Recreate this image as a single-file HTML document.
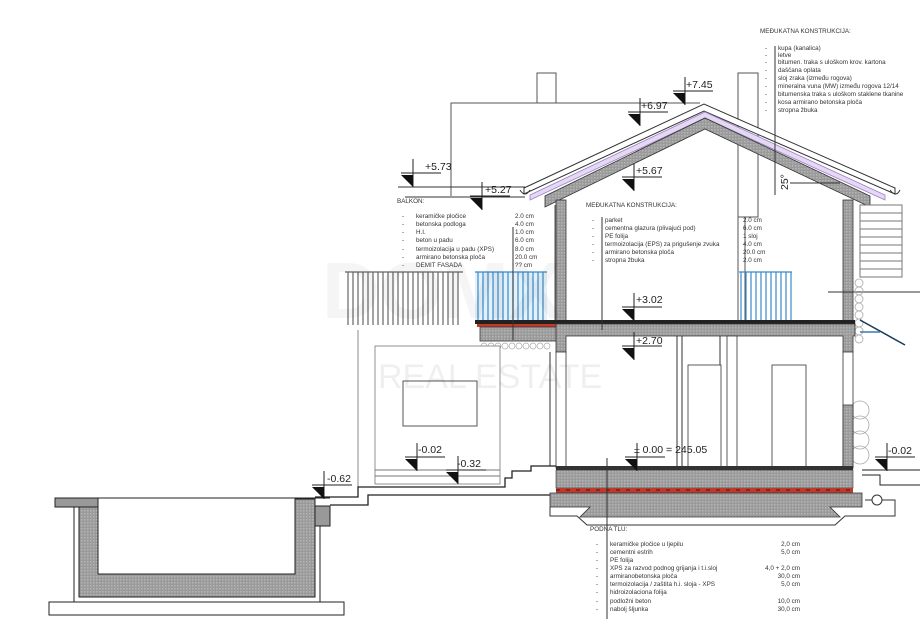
<!DOCTYPE html>
<html><head><meta charset="utf-8"><style>
html,body{margin:0;padding:0;background:#fff;}
svg{display:block;}
text{font-family:"Liberation Sans",sans-serif;fill:#333;}
.s{font-size:6.3px;}
.lv{font-size:10.5px;fill:#222;}
</style></head><body>
<svg width="920" height="636" viewBox="0 0 920 636" xmlns="http://www.w3.org/2000/svg">
<defs>
<pattern id="hatch" width="3" height="3" patternUnits="userSpaceOnUse"><rect width="3" height="3" fill="#9a9a9a"/><rect width="1.5" height="1.5" fill="#b5b5b5"/></pattern>
<g id="mk"><line x1="0" y1="0" x2="40" y2="0" stroke="#222" stroke-width="1"/><line x1="12" y1="-14" x2="12" y2="14" stroke="#222" stroke-width="1"/><polygon points="0,2 12,2 12,14" fill="#111"/></g>
</defs>

<!-- back building outline -->
<polyline points="451,196 451,103 700,103" fill="none" stroke="#555" stroke-width="1"/>
<rect x="537" y="73" width="19" height="30" fill="#fff" stroke="#555"/>
<rect x="738" y="73" width="20" height="144" fill="#fff" stroke="#555"/>
<line x1="398" y1="187" x2="525" y2="187" stroke="#333"/>
<line x1="405" y1="197" x2="525" y2="197" stroke="#333"/>

<!-- roof -->
<polygon points="524,188 704,104 895,188 895,194 704,111 524,194" fill="#fff" stroke="#333" stroke-width="1"/>
<polygon points="530,195 705,112 885,195 885,200 705,118 530,200" fill="#e4d8f2" stroke="#9b7fc7" stroke-width="0.8"/>
<polygon points="545,196 705,118 870,196 870,207 705,129 545,207" fill="url(#hatch)" stroke="#333" stroke-width="0.8"/>
<path d="M520,190 q5,8 10,0" fill="none" stroke="#333"/>
<path d="M890,190 q6,8 10,0" fill="none" stroke="#333"/>

<!-- upper walls -->
<rect x="556" y="200" width="10" height="130" fill="url(#hatch)" stroke="#333" stroke-width="0.8"/>
<rect x="843" y="200" width="10" height="130" fill="url(#hatch)" stroke="#333" stroke-width="0.8"/>
<line x1="555" y1="205" x2="555" y2="330" stroke="#555"/>
<line x1="738" y1="217" x2="738" y2="322" stroke="#555"/>
<line x1="745" y1="217" x2="745" y2="322" stroke="#555"/>

<!-- right stairs -->
<rect x="860" y="205" width="42" height="72" fill="#fff" stroke="#777"/>
<g stroke="#777"><line x1="860" y1="213" x2="902" y2="213"/><line x1="860" y1="221" x2="902" y2="221"/><line x1="860" y1="229" x2="902" y2="229"/><line x1="860" y1="237" x2="902" y2="237"/><line x1="860" y1="245" x2="902" y2="245"/><line x1="860" y1="253" x2="902" y2="253"/><line x1="860" y1="261" x2="902" y2="261"/><line x1="860" y1="269" x2="902" y2="269"/></g>
<line x1="828" y1="292" x2="920" y2="292" stroke="#333"/>
<g fill="none" stroke="#aaa" stroke-width="0.8">
<circle cx="859" cy="283" r="4"/><circle cx="859" cy="291" r="4"/><circle cx="859" cy="299" r="4"/><circle cx="859" cy="307" r="4"/><circle cx="859" cy="315" r="4"/><circle cx="859" cy="323" r="4"/><circle cx="859" cy="331" r="4"/><circle cx="859" cy="339" r="4"/>
<circle cx="860" cy="410" r="9"/><circle cx="860" cy="425" r="9"/><circle cx="860" cy="440" r="9"/><circle cx="860" cy="455" r="9"/>
</g>
<polyline points="860,320 905,345" stroke="#1a3a5a" stroke-width="1.5" fill="none"/>
<polyline points="860,332 880,332" stroke="#3a7ab0" stroke-width="1.5"/>

<!-- balconies railings -->
<g stroke="#666" stroke-width="1.2">
<line x1="345" y1="272" x2="463" y2="272"/>
<line x1="348" y1="272" x2="348" y2="325"/><line x1="353" y1="272" x2="353" y2="325"/><line x1="358" y1="272" x2="358" y2="325"/><line x1="363" y1="272" x2="363" y2="325"/><line x1="368" y1="272" x2="368" y2="325"/><line x1="373" y1="272" x2="373" y2="325"/><line x1="378" y1="272" x2="378" y2="325"/><line x1="383" y1="272" x2="383" y2="325"/><line x1="388" y1="272" x2="388" y2="325"/><line x1="393" y1="272" x2="393" y2="325"/><line x1="398" y1="272" x2="398" y2="325"/><line x1="403" y1="272" x2="403" y2="325"/><line x1="408" y1="272" x2="408" y2="325"/><line x1="413" y1="272" x2="413" y2="325"/><line x1="418" y1="272" x2="418" y2="325"/><line x1="423" y1="272" x2="423" y2="325"/><line x1="428" y1="272" x2="428" y2="325"/><line x1="433" y1="272" x2="433" y2="325"/><line x1="438" y1="272" x2="438" y2="325"/><line x1="443" y1="272" x2="443" y2="325"/><line x1="448" y1="272" x2="448" y2="325"/><line x1="453" y1="272" x2="453" y2="325"/><line x1="458" y1="272" x2="458" y2="325"/>
</g>
<rect x="475" y="272" width="72" height="50" fill="#e3f1fb"/>
<g stroke="#3a8ac8" stroke-width="1.2">
<line x1="475" y1="272" x2="547" y2="272"/>
<line x1="478" y1="272" x2="478" y2="322"/><line x1="483" y1="272" x2="483" y2="322"/><line x1="488" y1="272" x2="488" y2="322"/><line x1="493" y1="272" x2="493" y2="322"/><line x1="498" y1="272" x2="498" y2="322"/><line x1="503" y1="272" x2="503" y2="322"/><line x1="508" y1="272" x2="508" y2="322"/><line x1="513" y1="272" x2="513" y2="322"/><line x1="518" y1="272" x2="518" y2="322"/><line x1="523" y1="272" x2="523" y2="322"/><line x1="528" y1="272" x2="528" y2="322"/><line x1="533" y1="272" x2="533" y2="322"/><line x1="538" y1="272" x2="538" y2="322"/><line x1="543" y1="272" x2="543" y2="322"/>
</g>
<g stroke="#3a8ac8" stroke-width="1.2">
<line x1="739" y1="272" x2="792" y2="272"/>
<line x1="741" y1="272" x2="741" y2="322"/><line x1="746" y1="272" x2="746" y2="322"/><line x1="751" y1="272" x2="751" y2="322"/><line x1="756" y1="272" x2="756" y2="322"/><line x1="761" y1="272" x2="761" y2="322"/><line x1="766" y1="272" x2="766" y2="322"/><line x1="771" y1="272" x2="771" y2="322"/><line x1="776" y1="272" x2="776" y2="322"/><line x1="781" y1="272" x2="781" y2="322"/><line x1="786" y1="272" x2="786" y2="322"/><line x1="791" y1="272" x2="791" y2="322"/>
</g>

<!-- upper slab -->
<rect x="475" y="320" width="380" height="4" fill="#222"/>
<rect x="477" y="324" width="80" height="3" fill="#c0392b"/>
<rect x="480" y="327" width="78" height="14" fill="url(#hatch)" stroke="#333" stroke-width="0.8"/>
<polygon points="556,324 855,324 855,336 853,336 853,352 843,352 843,336 566,336 566,352 556,352" fill="url(#hatch)" stroke="#333" stroke-width="0.8"/>
<g fill="none" stroke="#aaa" stroke-width="0.7"><circle cx="484" cy="346" r="3"/><circle cx="491" cy="346" r="3"/><circle cx="498" cy="346" r="3"/><circle cx="505" cy="346" r="3"/><circle cx="512" cy="346" r="3"/><circle cx="519" cy="346" r="3"/><circle cx="526" cy="346" r="3"/><circle cx="533" cy="346" r="3"/><circle cx="540" cy="346" r="3"/><circle cx="547" cy="346" r="3"/></g>

<!-- ground floor walls -->
<rect x="556" y="352" width="10" height="116" fill="#fff" stroke="#333" stroke-width="0.8"/>
<rect x="843" y="352" width="10" height="116" fill="#fff" stroke="#333" stroke-width="0.8"/>
<rect x="843" y="405" width="10" height="63" fill="url(#hatch)" stroke="#333" stroke-width="0.8"/>
<rect x="727" y="336" width="10" height="132" fill="#fff" stroke="#333" stroke-width="0.8"/>
<line x1="677" y1="336" x2="677" y2="468" stroke="#333"/>
<line x1="682" y1="336" x2="682" y2="468" stroke="#333"/>
<line x1="720" y1="336" x2="720" y2="468" stroke="#333"/>
<rect x="688" y="365" width="33" height="103" fill="#fff" stroke="#333" stroke-width="0.8"/>
<rect x="772" y="365" width="34" height="103" fill="#fff" stroke="#333" stroke-width="0.8"/>

<!-- ground slab & foundation -->
<rect x="556" y="466" width="297" height="4" fill="#333"/>
<rect x="556" y="470" width="297" height="18" fill="url(#hatch)" stroke="#333" stroke-width="0.6"/>
<rect x="556" y="488" width="297" height="5" fill="#c0392b"/>
<line x1="556" y1="490" x2="853" y2="490" stroke="#222" stroke-dasharray="4,6"/>
<polygon points="550,493 862,493 862,507 830,507 840,517 580,517 590,507 550,507" fill="url(#hatch)" stroke="#333" stroke-width="0.8"/>
<polyline points="550,507 550,516 577,516 587,525 835,525 845,516 895,516 895,500 865,500" fill="none" stroke="#333"/>
<circle cx="877" cy="500" r="5" fill="#fff" stroke="#333"/>

<!-- annex -->
<line x1="358" y1="330" x2="358" y2="487" stroke="#888"/>
<rect x="375" y="346" width="125" height="138" fill="#fff" stroke="#777" stroke-width="0.8"/>
<rect x="403" y="381" width="74" height="45" fill="#fff" stroke="#555"/>
<line x1="375" y1="470" x2="500" y2="470" stroke="#777"/>
<line x1="375" y1="476" x2="500" y2="476" stroke="#777"/>
<line x1="550" y1="352" x2="550" y2="466" stroke="#333"/>

<!-- ground lines -->
<polyline points="315,497 358,497 358,487 505,487 505,478 512,478 512,471 531,471 531,466 556,466" fill="none" stroke="#222" stroke-width="1.3"/>
<polyline points="330,505 368,505 368,495 550,495" fill="none" stroke="#222" stroke-width="1.3"/>
<polyline points="862,470 920,470" fill="none" stroke="#222"/>
<polyline points="862,475 880,475 880,485 920,485" fill="none" stroke="#222"/>

<!-- pool -->
<rect x="49" y="602" width="295" height="13" fill="#fff" stroke="#222"/>
<polyline points="74,507 74,602 320,602 320,507" fill="none" stroke="#222"/>
<rect x="79" y="499" width="236" height="98" fill="url(#hatch)" stroke="#222"/>
<rect x="98" y="498" width="197" height="76" fill="#fff" stroke="#222"/>
<rect x="55" y="498" width="43" height="9" fill="#999" stroke="#222"/>
<rect x="315" y="506" width="15" height="20" fill="#999" stroke="#222"/>
<line x1="55" y1="498" x2="330" y2="498" stroke="#222"/>

<!-- watermark (on top, faint) -->
<text x="378" y="388" style="font-size:34px;fill:#000;opacity:0.06">REAL ESTATE</text>
<text x="322" y="318" style="font-size:80px;fill:#000;opacity:0.035;font-weight:bold">DOMX</text>

<!-- level markers -->
<use href="#mk" x="673" y="91"/><text class="lv" x="686" y="88">+7.45</text>
<use href="#mk" x="628" y="112"/><text class="lv" x="641" y="109">+6.97</text>
<use href="#mk" x="401" y="173"/><text class="lv" x="425" y="170">+5.73</text>
<use href="#mk" x="470" y="196"/><text class="lv" x="485" y="193">+5.27</text>
<use href="#mk" x="622" y="177"/><text class="lv" x="636" y="174">+5.67</text>
<use href="#mk" x="622" y="307"/><text class="lv" x="636" y="303">+3.02</text>
<use href="#mk" x="622" y="346"/><text class="lv" x="636" y="344">+2.70</text>
<use href="#mk" x="405" y="457"/><text class="lv" x="418" y="453">-0.02</text>
<use href="#mk" x="446" y="470"/><text class="lv" x="457" y="467">-0.32</text>
<use href="#mk" x="312" y="485"/><text class="lv" x="327" y="482">-0.62</text>
<use href="#mk" x="625" y="457"/><text class="lv" x="634" y="453">± 0.00 = 245.05</text>
<use href="#mk" x="875" y="457"/><text class="lv" x="888" y="454">-0.02</text>
<text class="lv" transform="translate(788,190) rotate(-90)">25°</text>
<line x1="790" y1="183" x2="840" y2="183" stroke="#333"/>

<!-- top right text -->
<line x1="775" y1="46" x2="775" y2="195" stroke="#333"/>
<text class="s" x="760" y="33">MEĐUKATNA KONSTRUKCIJA:</text>
<text class="s" x="765" y="50">-</text><text class="s" x="778" y="50">kupa (kanalica)</text>
<text class="s" x="765" y="57">-</text><text class="s" x="778" y="57">letve</text>
<text class="s" x="765" y="64">-</text><text class="s" x="778" y="64">bitumen. traka s uloškom krov. kartona</text>
<text class="s" x="765" y="72">-</text><text class="s" x="778" y="72">daščana oplata</text>
<text class="s" x="765" y="80">-</text><text class="s" x="778" y="80">sloj zraka (između rogova)</text>
<text class="s" x="765" y="88">-</text><text class="s" x="778" y="88">mineralna vuna (MW) između rogova 12/14</text>
<text class="s" x="765" y="96">-</text><text class="s" x="778" y="96">bitumenska traka s uloškom staklene tkanine</text>
<text class="s" x="765" y="104">-</text><text class="s" x="778" y="104">kosa armirano betonska ploča</text>
<text class="s" x="765" y="112">-</text><text class="s" x="778" y="112">stropna žbuka</text>

<!-- balkon text -->
<line x1="513" y1="227" x2="513" y2="340" stroke="#333"/>
<text class="s" x="397" y="203">BALKON:</text>
<text class="s" x="402" y="218">-</text><text class="s" x="416" y="218">keramičke pločice</text><text class="s" x="515" y="218">2.0 cm</text>
<text class="s" x="402" y="226">-</text><text class="s" x="416" y="226">betonska podloga</text><text class="s" x="515" y="226">4.0 cm</text>
<text class="s" x="402" y="234">-</text><text class="s" x="416" y="234">H.I.</text><text class="s" x="515" y="234">1.0 cm</text>
<text class="s" x="402" y="242">-</text><text class="s" x="416" y="242">beton u padu</text><text class="s" x="515" y="242">6.0 cm</text>
<text class="s" x="402" y="251">-</text><text class="s" x="416" y="251">termoizolacija u padu (XPS)</text><text class="s" x="515" y="251">8.0 cm</text>
<text class="s" x="402" y="259">-</text><text class="s" x="416" y="259">armirano betonska ploča</text><text class="s" x="515" y="259">20.0 cm</text>
<text class="s" x="402" y="267">-</text><text class="s" x="416" y="267">DEMIT FASADA</text><text class="s" x="515" y="267">?? cm</text>

<!-- middle text -->
<line x1="602" y1="217" x2="602" y2="330" stroke="#333"/>
<text class="s" x="586" y="207">MEĐUKATNA KONSTRUKCIJA:</text>
<text class="s" x="592" y="222">-</text><text class="s" x="605" y="222">parket</text><text class="s" x="743" y="222">2.0 cm</text>
<text class="s" x="592" y="230">-</text><text class="s" x="605" y="230">cementna glazura (plivajući pod)</text><text class="s" x="743" y="230">6.0 cm</text>
<text class="s" x="592" y="238">-</text><text class="s" x="605" y="238">PE folija</text><text class="s" x="743" y="238">1 sloj</text>
<text class="s" x="592" y="246">-</text><text class="s" x="605" y="246">termoizolacija (EPS) za prigušenje zvuka</text><text class="s" x="743" y="246">4.0 cm</text>
<text class="s" x="592" y="254">-</text><text class="s" x="605" y="254">armirano betonska ploča</text><text class="s" x="743" y="254">20.0 cm</text>
<text class="s" x="592" y="262">-</text><text class="s" x="605" y="262">stropna žbuka</text><text class="s" x="743" y="262">2.0 cm</text>

<!-- bottom text -->
<line x1="607" y1="458" x2="607" y2="619" stroke="#333"/>
<text class="s" x="590" y="531">PODNA TLU:</text>
<text class="s" x="596" y="546">-</text><text class="s" x="610" y="546">keramičke pločice u ljepilu</text><text class="s" x="800" y="546" text-anchor="end">2,0 cm</text>
<text class="s" x="596" y="554">-</text><text class="s" x="610" y="554">cementni estrih</text><text class="s" x="800" y="554" text-anchor="end">5,0 cm</text>
<text class="s" x="596" y="562">-</text><text class="s" x="610" y="562">PE folija</text>
<text class="s" x="596" y="570">-</text><text class="s" x="610" y="570">XPS za razvod podnog grijanja i t.i.sloj</text><text class="s" x="800" y="570" text-anchor="end">4,0 + 2,0 cm</text>
<text class="s" x="596" y="578">-</text><text class="s" x="610" y="578">armiranobetonska ploča</text><text class="s" x="800" y="578" text-anchor="end">30,0 cm</text>
<text class="s" x="596" y="586">-</text><text class="s" x="610" y="586">termoizolacija / zaštita h.i. sloja - XPS</text><text class="s" x="800" y="586" text-anchor="end">5,0 cm</text>
<text class="s" x="596" y="594">-</text><text class="s" x="610" y="594">hidroizolaciona folija</text>
<text class="s" x="596" y="603">-</text><text class="s" x="610" y="603">podložni beton</text><text class="s" x="800" y="603" text-anchor="end">10,0 cm</text>
<text class="s" x="596" y="611">-</text><text class="s" x="610" y="611">nabolj šljunka</text><text class="s" x="800" y="611" text-anchor="end">30,0 cm</text>
</svg>
</body></html>
